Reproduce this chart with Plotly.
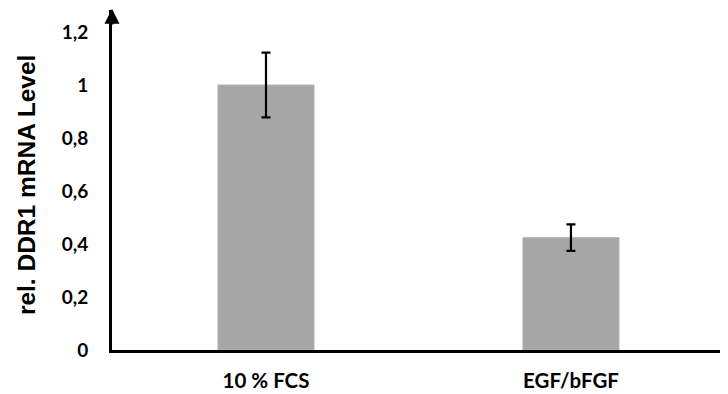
import plotly.graph_objects as go

categories = ["10 % FCS", "EGF/bFGF"]
values = [1.0, 0.424]
errors = [0.122, 0.05]
ytick_vals = [0, 0.2, 0.4, 0.6, 0.8, 1.0, 1.2]
ytick_text = ["0", "0,2", "0,4", "0,6", "0,8", "1", "1,2"]

fig = go.Figure()
fig.add_trace(go.Bar(
    x=[0, 1], y=values, width=0.315,
    marker=dict(color="#A6A6A6", line=dict(color="#B4B4B4", width=1)),
    error_y=dict(type="data", array=errors, visible=True, color="black", thickness=2.2, width=4.5),
))

YMAX = 1.283
fig.update_layout(
    width=720, height=386,
    margin=dict(l=104, r=0, t=2, b=44),
    plot_bgcolor="white", paper_bgcolor="white",
    showlegend=False,
    xaxis=dict(range=[-0.505, 1.515], tickvals=[0, 1], ticktext=categories,
               showline=True, linecolor="black", linewidth=3, showgrid=False, zeroline=False,
               ticks="", tickfont=dict(family="Lato", size=20.5, color="black", weight="bold"),
               ticklabelstandoff=10),
    yaxis=dict(range=[0, YMAX], tickvals=ytick_vals, ticktext=ytick_text,
               showline=True, linecolor="black", linewidth=3, showgrid=False, zeroline=False,
               ticks="", tickfont=dict(family="Lato", size=19, color="black", weight="bold"),
               ticklabelstandoff=17),
    font=dict(family="Lato", color="black"),
)
fig.add_annotation(x=-0.505, y=YMAX + 0.005, xref="x", yref="y",
                   ax=-0.505, ay=YMAX - 0.06, axref="x", ayref="y",
                   showarrow=True, arrowhead=2, arrowsize=1, arrowwidth=3, arrowcolor="black", text="")
fig.add_annotation(x=-0.1396, y=0.485, xref="paper", yref="paper", xanchor="center", yanchor="middle",
                   text="<b>rel. DDR1 mRNA Level</b>",
                   textangle=-90, showarrow=False,
                   font=dict(family="Arial, Liberation Sans, sans-serif", size=24.5, color="black"))

fig.write_html("out.html")
